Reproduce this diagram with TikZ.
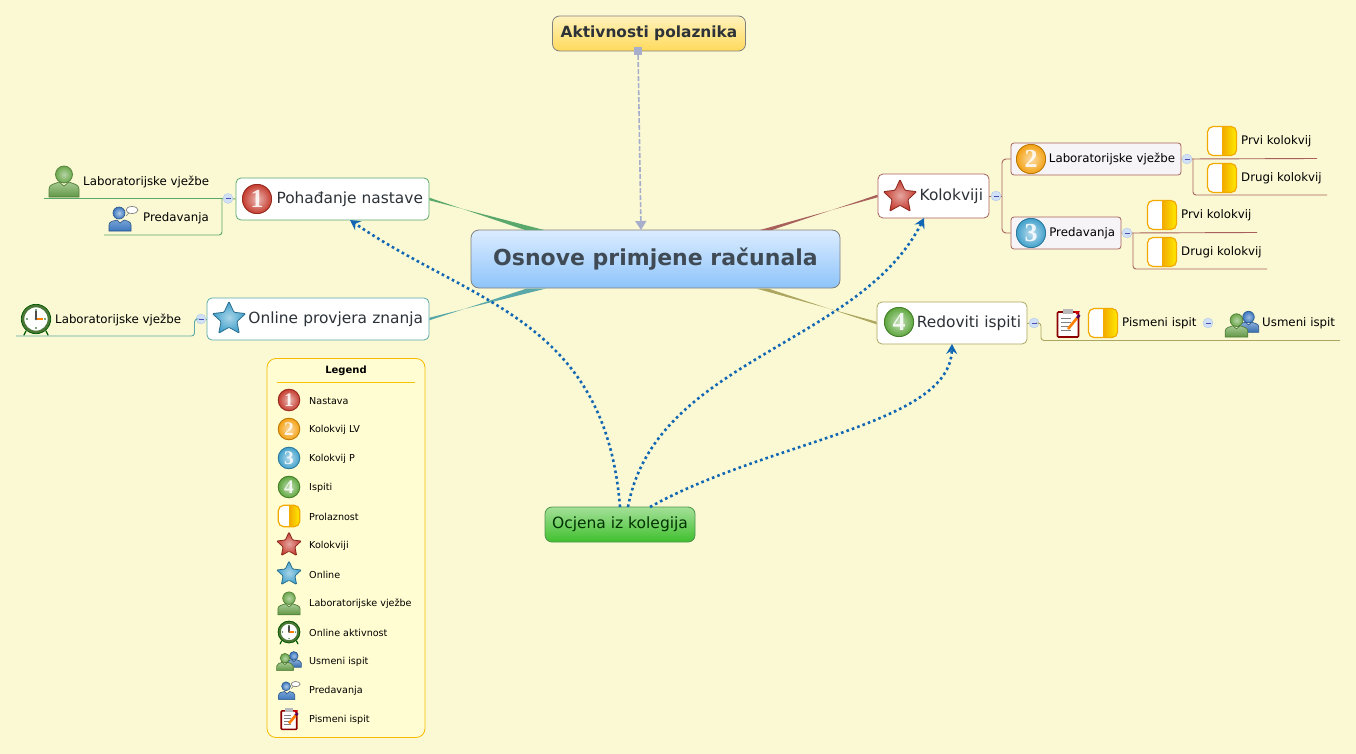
\documentclass[tikz,border=0pt]{standalone}
\usepackage{fontspec}
\setmainfont{DejaVu Sans}
\newfontfamily\numfont{Liberation Serif}
\usetikzlibrary{calc,arrows.meta,positioning,shapes.geometric}

\definecolor{paper}{HTML}{FBF9D3}
\definecolor{inktopic}{HTML}{2C3238}
\definecolor{inkroot}{HTML}{3F4A55}
\definecolor{brgreen}{HTML}{5BA86C}
\definecolor{brteal}{HTML}{5AA8A8}
\definecolor{brred}{HTML}{A8605C}
\definecolor{brolive}{HTML}{ADA660}
\definecolor{linkblue}{HTML}{1267B4}
\definecolor{ballred}{HTML}{C5392C}
\definecolor{ballorange}{HTML}{F4A00F}
\definecolor{ballblue}{HTML}{3E9FCB}
\definecolor{ballgreen}{HTML}{5BA53A}
\definecolor{gold}{HTML}{F2A900}
\definecolor{manblue}{HTML}{3C78C0}
\definecolor{mangreen}{HTML}{6CA84C}
\definecolor{foldfill}{HTML}{D0E0F5}
\definecolor{folddraw}{HTML}{B4CAE8}
\definecolor{rootA}{HTML}{DCECFF}
\definecolor{rootB}{HTML}{8DC4FA}
\definecolor{aktA}{HTML}{FFF2BC}
\definecolor{aktB}{HTML}{FFDA5C}
\definecolor{ocjA}{HTML}{A4E098}
\definecolor{ocjB}{HTML}{3FC02E}
\definecolor{dashgray}{HTML}{A6AECB}
\definecolor{subfill}{HTML}{F6F4F6}

\newcommand{\manshape}[1]{%
  \draw[#1!75!black, line width=.7pt, top color=#1!60, bottom color=#1!90!black]
    (-15,16) -- (-15,8) .. controls (-15,3) and (-9,3) .. (-5,1) -- (0,5) -- (5,1) .. controls (9,3) and (15,3) .. (15,8) -- (15,16) -- cycle;
  \shade[draw=#1!75!black, line width=.7pt, inner color=#1!50, outer color=#1] (0,-6.5) circle (8.5pt);
}

\tikzset{
  boxed/.style={draw, rounded corners=5pt, align=right, inner xsep=6pt, inner ysep=0pt, text=inktopic, line width=.8pt},
  topicbox/.style={boxed, fill=white, minimum height=42pt, font=\fontsize{15.4}{18}\selectfont},
  subbox/.style={boxed, draw=brred, fill=subfill, minimum height=32pt, text=black, font=\fontsize{11.8}{14}\selectfont, rounded corners=3pt},
  leaf/.style={inner sep=0pt, anchor=west, yshift=-.7pt, font=\fontsize{11.8}{14}\selectfont},
  legtext/.style={inner sep=0pt, anchor=west, yshift=-1pt, font=\fontsize{9.6}{12}\selectfont},
  fold/.style={circle, draw=folddraw, fill=foldfill, minimum size=10pt, inner sep=0pt,
    path picture={\draw[blue!40!gray, line width=.6pt] (path picture bounding box.center) ++(-2.5pt,0) -- ++(5pt,0);}},
  branch/.style={line width=.9pt},
  link/.style={linkblue, line width=2.6pt, dash pattern=on 2.6pt off 3.1pt, -{Stealth[length=10pt,width=11pt,inset=3.5pt]}},
  pics/numball/.style 2 args={code={
    \shade[inner color=#2!35, outer color=#2] (0,0) circle (15pt);
    \draw[#2!75!black, line width=.8pt] (0,0) circle (14.6pt);
    \node[text=white, text opacity=.85, inner sep=0pt, transform shape, font=\numfont\bfseries\fontsize{26}{26}\selectfont] (-num) at (0,0) {#1};
  }},
  pics/halfbox/.style={code={
    \begin{scope}
      \clip[rounded corners=5.5pt] (-14.5,-14.5) rectangle (14.5,14.5);
      \fill[white] (-14.5,-14.5) rectangle (0,14.5);
      \shade[left color=gold, right color=yellow!85!orange] (0,-14.5) rectangle (14.5,14.5);
    \end{scope}
    \draw[gold, line width=1.2pt, rounded corners=5.5pt] (-14.5,-14.5) rectangle (14.5,14.5);
  }},
  pics/starico/.style={code={
    \node[star, star points=5, star point ratio=2.1, minimum size=35pt, inner sep=0pt, draw=#1!70!black, line width=.8pt,
      inner color=#1!45, outer color=#1, shade, rounded corners=1pt, transform shape] (-shape) at (0,0) {};
  }},
  pics/person/.style={code={\manshape{#1}}},
  pics/speaker/.style={code={
    \draw[manblue!70!black, line width=.6pt, top color=manblue!70, bottom color=manblue] (-14,13) -- (-14,7) .. controls (-14,3) and (-9,3) .. (-6,2) -- (-3,5) -- (1,2) .. controls (5,3) and (8,4) .. (8,7) -- (8,13) -- cycle;
    \shade[draw=manblue!70!black, line width=.6pt, inner color=manblue!40, outer color=manblue] (-4,-5) circle (6pt);
    \draw[gray, fill=white, line width=.7pt] (9,-8) ellipse (6pt and 3.5pt);
    \draw[gray, line width=.7pt] (6,-5) -- (3,-2);
  }},
  pics/clockico/.style={code={
    \draw[green!35!black, line width=1.2pt, line cap=round] (-10,12) -- (-12,16) (10,12) -- (12,16);
    \draw[mangreen!70!black, line width=3pt, fill=white] (0,0) circle (13.2pt);
    \draw[green!35!black, line width=.7pt] (0,0) circle (14.7pt);
    \foreach \a in {0,90,180,270}
      \fill[green!30!black] (\a:9pt) circle (.9pt);
    \draw[black!70, line width=1.1pt] (0,0) -- (0,-8);
    \draw[orange, line width=1.1pt] (0,0) -- (7,0);
    \fill[black!70] (0,0) circle (1.3pt);
  }},
  pics/clipico/.style={code={
    \draw[red!55!black, line width=1.6pt, fill=white, rounded corners=1pt] (-10.5,-11) rectangle (10.5,14);
    \fill[gray!55] (-5,-14.5) rectangle (5,-9);
    \foreach \y in {-5,-1,3,7}
      \draw[gray, line width=.6pt] (-7,\y) -- (3,\y);
    \draw[orange, line width=2.6pt] (0,6) -- (9,-5);
    \draw[violet!70!black, line width=2.6pt] (9,-5) -- (11.5,-8);
    \fill[red!80!black] (6,-12) -- (12,-12) -- (9,-8) -- cycle;
  }},
  pics/duoico/.style={code={
    \begin{scope}[shift={(6.5,-2.5)}, scale=.68]
      \manshape{manblue}
    \end{scope}
    \begin{scope}[shift={(-5.5,1)}, scale=.75]
      \manshape{mangreen}
    \end{scope}
  }},
}

\begin{document}
\begin{tikzpicture}[x=1pt, y=-1pt, >=Stealth]
  \useasboundingbox[fill=paper] (0,0) rectangle (1356,754);

  % Glavni cvorovi
  \node[boxed, draw=black!50, rounded corners=8pt, top color=rootA, bottom color=rootB,
    minimum width=369pt, minimum height=58pt, align=center, text=inkroot, font=\bfseries\fontsize{22}{26}\selectfont]
    (root) at (655.5,259) {Osnove primjene računala};
  \node[boxed, draw=black!50, rounded corners=7pt, top color=aktA, bottom color=aktB,
    minimum width=193pt, minimum height=35pt, align=center, font=\bfseries\fontsize{15.4}{18}\selectfont]
    (akt) at (649,33.5) {Aktivnosti polaznika};
  \node[boxed, draw=green!40!black!70, rounded corners=7pt, top color=ocjA, bottom color=ocjB,
    minimum width=150pt, minimum height=35pt, align=center, text=black!80!green, font=\fontsize{15.5}{18}\selectfont]
    (ocj) at (620,524.5) {Ocjena iz kolegija};

  % Teme
  \node[topicbox, draw=brgreen, text width=181pt] (poh) at (332.5,199) {Pohađanje nastave};
  \node[topicbox, draw=brteal, text width=210pt] (onl) at (318,319) {Online provjera znanja};
  \node[topicbox, draw=brred, minimum height=44pt, text width=99pt] (kol) at (933.5,196) {Kolokviji};
  \node[topicbox, draw=brolive, text width=138pt] (red) at (952,323) {Redoviti ispiti};
  \node[subbox, text width=158pt] (lab) at (1096,159) {Laboratorijske vježbe};
  \node[subbox, text width=98pt] (pre) at (1066,233) {Predavanja};

  % Grane od sredine
  \fill[brgreen] (525,230) -- (544,230) -- ($(poh.east)+(0,1.3)$) -- ($(poh.east)+(0,-1.3)$) -- cycle;
  \fill[brteal] (527,288.5) -- (546,288.5) -- ($(onl.east)+(0,-1.3)$) -- ($(onl.east)+(0,1.3)$) -- cycle;
  \fill[brred] (760,230) -- (772,230) -- ($(kol.west)+(0,-1.3)$) -- ($(kol.west)+(0,1.3)$) -- cycle;
  \fill[brolive] (756,288.5) -- (768,288.5) -- ($(red.west)+(0,1.3)$) -- ($(red.west)+(0,-1.3)$) -- cycle;

  % Aktivnosti -> sredina
  \node[fill=dashgray, minimum size=8pt, inner sep=0pt] (aktSq) at (638,51) {};
  \coordinate (rootIn) at (641,230);
  \draw[dashgray, line width=1.6pt, dash pattern=on 5pt off 2pt, -{Triangle[length=9pt,width=11pt]}] (aktSq) -- (rootIn);

  % Lijeva strana
  \node[fold] (fPoh) at (228,198.5) {};
  \node[fold] (fOnl) at (201,319) {};
  \coordinate (jPoh) at (222,198.5);
  \coordinate (ePohA) at (44,198.5);
  \coordinate (ePohB) at (104,235);
  \coordinate (jOnl) at (194.5,319);
  \coordinate (eOnl) at (16,336);
  \draw[brgreen, branch] (poh.west) -- (fPoh);
  \draw[brgreen, branch] (fPoh) -- (ePohA);
  \draw[brgreen, branch, rounded corners=3pt] (jPoh) |- (ePohB);
  \draw[brteal, branch] (onl.west) -- (fOnl);
  \draw[brteal, branch, rounded corners=3pt] (fOnl) -- (jOnl) |- (eOnl);

  \node[leaf] (tLabA) at (83,181) {Laboratorijske vježbe};
  \node[leaf] (tPreA) at (143,218) {Predavanja};
  \node[leaf] (tLabB) at (55,319) {Laboratorijske vježbe};

  % Desna strana
  \node[fold] (fKol) at (996,196) {};
  \node[fold] (fLab) at (1187,159) {};
  \node[fold] (fPre) at (1127,233) {};
  \node[fold] (fRed) at (1034,323) {};
  \node[fold] (fPis) at (1208,323) {};
  \coordinate (jKol) at (1002,196);
  \coordinate (jLab) at (1193,158.5);
  \coordinate (jPre) at (1133,232.5);
  \coordinate (jRed) at (1041,323);
  \coordinate (eLabA) at (1317,158.5);
  \coordinate (eLabB) at (1327,195);
  \coordinate (ePreA) at (1257,232.5);
  \coordinate (ePreB) at (1267,269);
  \coordinate (eRed) at (1340,340.5);
  \draw[brred, branch] (kol.east) -- (fKol) -- (jKol);
  \draw[brred, branch, rounded corners=4pt] (lab.west) -| (jKol) |- (pre.west);
  \draw[brred, branch] (lab.east) -- (fLab) -- (eLabA);
  \draw[brred, branch, rounded corners=3pt] (jLab) |- (eLabB);
  \draw[brred, branch] (pre.east) -- (fPre) -- (ePreA);
  \draw[brred, branch, rounded corners=3pt] (jPre) |- (ePreB);
  \draw[brolive, branch] (red.east) -- (fRed);
  \draw[brolive, branch, rounded corners=3pt] (fRed) -- (jRed) |- (eRed);

  \node[leaf] (tPrvA) at (1241,141) {Prvi kolokvij};
  \node[leaf] (tDruA) at (1241,178) {Drugi kolokvij};
  \node[leaf] (tPrvB) at (1181,215) {Prvi kolokvij};
  \node[leaf] (tDruB) at (1181,252) {Drugi kolokvij};
  \node[leaf] (tPis) at (1122,323) {Pismeni ispit};
  \node[leaf] (tUsm) at (1262,323) {Usmeni ispit};

  % Ikone
  \pic (iPoh) at (257,199) {numball={1}{ballred}};
  \pic (iOnl) at (229,319) {starico=ballblue};
  \pic (iKol) at (900,197) {starico=ballred};
  \pic (iRed) at (899,322) {numball={4}{ballgreen}};
  \pic (iLab) at (1031,159) {numball={2}{ballorange}};
  \pic (iPre) at (1031,233) {numball={3}{ballblue}};
  \pic at (64,181) {person=mangreen};
  \pic at (123,218) {speaker};
  \pic at (36,319) {clockico};
  \pic at (1222,141) {halfbox};
  \pic at (1222,178) {halfbox};
  \pic at (1162,215) {halfbox};
  \pic at (1162,252) {halfbox};
  \pic at (1103,323) {halfbox};
  \pic at (1068,323) {clipico};
  \pic at (1242,324) {duoico};

  % Legenda
  \node[draw=gold!80!yellow, fill=yellow!18!white, line width=.8pt, rounded corners=9pt, minimum width=158pt, minimum height=379pt, inner sep=0pt] (leg) at (346,548) {};
  \node[inner sep=0pt, font=\bfseries\fontsize{10}{12}\selectfont] (legT) at (346,371) {Legend};
  \coordinate (legA) at (277,382.5);
  \coordinate (legB) at (415,382.5);
  \draw[gold!70!yellow, line width=.7pt] (legA) -- (legB);
  \pic[scale=.74] (lg1) at (289,400) {numball={1}{ballred}};
  \pic[scale=.74] (lg2) at (289,429) {numball={2}{ballorange}};
  \pic[scale=.74] (lg3) at (289,458) {numball={3}{ballblue}};
  \pic[scale=.74] (lg4) at (289,487) {numball={4}{ballgreen}};
  \pic[scale=.74] at (289,516) {halfbox};
  \pic[scale=.74] (lg6) at (289,545) {starico=ballred};
  \pic[scale=.74] (lg7) at (289,574) {starico=ballblue};
  \pic[scale=.74] at (289,603) {person=mangreen};
  \pic[scale=.74] at (289,632) {clockico};
  \pic[scale=.74] at (289,661) {duoico};
  \pic[scale=.74] at (289,690) {speaker};
  \pic[scale=.74] at (289,719) {clipico};
  \foreach \y/\name/\txt in {400/a/Nastava, 429/b/Kolokvij LV, 458/c/Kolokvij P, 487/d/Ispiti, 516/e/Prolaznost, 545/f/Kolokviji,
      574/g/Online, 603/h/Laboratorijske vježbe, 632/i/Online aktivnost, 661/j/Usmeni ispit, 690/k/Predavanja, 719/l/Pismeni ispit}
    \node[legtext] (leg\name) at (309,\y) {\txt};

  % Ocjena -> teme
  \coordinate (ocjP) at (620,507);
  \coordinate (ocjQ) at (628,507);
  \coordinate (ocjR) at (650,507);
  \coordinate (pohIn) at (350,220);
  \coordinate (kolIn) at (924,218);
  \coordinate (redIn) at (952,344);
  \draw[link] (ocjP) .. controls (605,318) and (470,303) .. (pohIn);
  \draw[link] (ocjQ) .. controls (655,360) and (860,345) .. (kolIn);
  \draw[link] (ocjR) .. controls (770,440) and (950,425) .. (redIn);
\end{tikzpicture}
\end{document}
